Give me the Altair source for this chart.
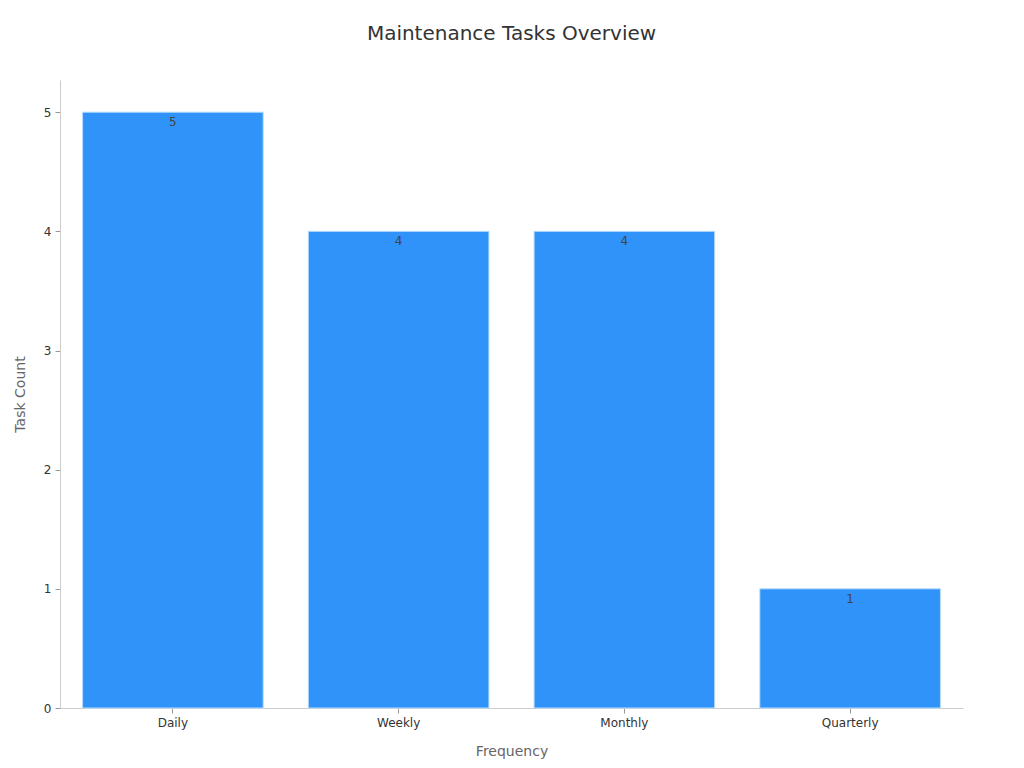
import altair as alt
import pandas as pd

categories = ["Daily", "Weekly", "Monthly", "Quarterly"]
counts = [5, 4, 4, 1]

df = pd.DataFrame({"Frequency": categories, "Task Count": counts})

base = alt.Chart(df).encode(
    x=alt.X("Frequency:N", sort=categories,
            scale=alt.Scale(paddingInner=0.2, paddingOuter=0.1),
            axis=alt.Axis(title="Frequency", labelAngle=0, labelFontSize=12, labelColor="#333333",
                          titleFontSize=14, titleColor="#666666", titleFontWeight="normal",
                          titlePadding=16, tickSize=5, tickColor="#999999", domainColor="#cccccc",
                          labelPadding=4)),
    y=alt.Y("Task Count:Q", scale=alt.Scale(domain=[0, 5.27], nice=False),
            axis=alt.Axis(title="Task Count", values=[0, 1, 2, 3, 4, 5], grid=False,
                          labelFontSize=12, labelColor="#333333", titleFontSize=14,
                          titleColor="#666666", titleFontWeight="normal", titlePadding=16,
                          tickSize=5, tickColor="#999999", domainColor="#cccccc", labelPadding=4)),
)

bars = base.mark_bar(color="#2f93fa", stroke="#b5dcff", strokeWidth=1)
labels = base.mark_text(baseline="top", dy=5, fontSize=12, color="#444444").encode(text="Task Count:Q")

chart = (bars + labels).properties(
    width=903, height=628,
    title=alt.TitleParams("Maintenance Tasks Overview", fontSize=20, fontWeight="normal",
                          color="#333333", offset=36),
    autosize=alt.AutoSizeParams(type="none"),
    padding={"left": 52, "top": 72, "right": 53, "bottom": 52},
).configure(font="DejaVu Sans").configure_view(stroke=None)

chart.save("out.html", embed_options={"renderer": "svg", "actions": False})
